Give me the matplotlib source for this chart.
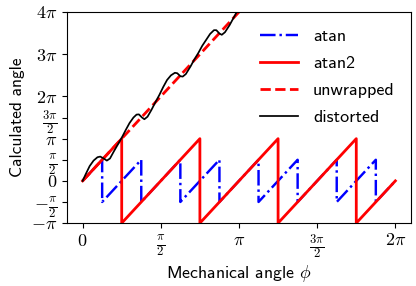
import matplotlib
matplotlib.use("Agg")
import matplotlib.pyplot as plt
import numpy as np

plt.rcParams['mathtext.fontset'] = 'cm'
plt.rcParams['font.family'] = ['cmss10', 'DejaVu Sans']
plt.rcParams['axes.unicode_minus'] = False
plt.rcParams['font.size'] = 13

# all angles below are in units of pi
# atan(tan(4 phi)) -- vertices of the wrapped sawtooth in [-pi/2, pi/2]
atan_phi = [0, 0.125, 0.125, 0.375, 0.375, 0.625, 0.625, 0.875, 0.875,
            1.125, 1.125, 1.375, 1.375, 1.625, 1.625, 1.875, 1.875, 2.0]
atan_val = [0, 0.5, -0.5, 0.5, -0.5, 0.5, -0.5, 0.5, -0.5,
            0.5, -0.5, 0.5, -0.5, 0.5, -0.5, 0.5, -0.5, 0]

# atan2 -- sawtooth in [-pi, pi]
atan2_phi = [0, 0.25, 0.25, 0.75, 0.75, 1.25, 1.25, 1.75, 1.75, 2.0]
atan2_val = [0, 1, -1, 1, -1, 1, -1, 1, -1, 0]

# unwrapped electrical angle
unwrapped_phi = [0, 2.0]
unwrapped_val = [0, 8.0]

# distorted angle (clipped at 4 pi)
distorted_phi = [0, 0.02, 0.045, 0.07, 0.095, 0.113, 0.135, 0.155, 0.175, 0.2, 0.225,
                 0.25, 0.275, 0.3, 0.325, 0.345, 0.36, 0.38, 0.395, 0.415, 0.44, 0.465,
                 0.49, 0.515, 0.54, 0.565, 0.59, 0.605, 0.625, 0.64, 0.66, 0.69, 0.715,
                 0.74, 0.765, 0.79, 0.815, 0.84, 0.855, 0.875, 0.89, 0.91, 0.94, 0.965,
                 0.99, 1.02]
distorted_val = [0, 0.16, 0.35, 0.48, 0.56, 0.575, 0.53, 0.48, 0.53, 0.70, 0.86,
                 1.02, 1.20, 1.37, 1.50, 1.57, 1.575, 1.50, 1.46, 1.52, 1.68, 1.86,
                 2.03, 2.22, 2.39, 2.50, 2.56, 2.55, 2.48, 2.47, 2.53, 2.71, 2.88,
                 3.03, 3.20, 3.34, 3.48, 3.57, 3.57, 3.49, 3.46, 3.52, 3.69, 3.86,
                 4.03, 4.22]

xticks = [0, 0.5, 1, 1.5, 2]
xtick_labels = [r'$0$', r'$\frac{\pi}{2}$', r'$\pi$', r'$\frac{3\pi}{2}$', r'$2\pi$']
yticks = [-1, -0.5, 0, 0.5, 1, 1.5, 2, 3, 4]
ytick_labels = [r'$-\pi$', r'$-\frac{\pi}{2}$', r'$0$', r'$\frac{\pi}{2}$', r'$\pi$',
                r'$\frac{3\pi}{2}$', r'$2\pi$', r'$3\pi$', r'$4\pi$']

pi = np.pi
fig = plt.figure(figsize=(4.16, 2.86), dpi=100)
ax = fig.add_axes([0.161, 0.22, 0.827, 0.738])

ax.plot(np.array(atan_phi) * pi, np.array(atan_val) * pi, 'b-.', lw=1.75, label='atan')
ax.plot(np.array(atan2_phi) * pi, np.array(atan2_val) * pi, 'r-', lw=2, label='atan2')
ax.plot(np.array(unwrapped_phi) * pi, np.array(unwrapped_val) * pi, 'r--', lw=2, label='unwrapped')
ax.plot(np.array(distorted_phi) * pi, np.array(distorted_val) * pi, 'k-', lw=1.25, label='distorted')

ax.set_ylim(-pi, 4 * pi)
ax.set_xticks(np.array(xticks) * pi)
ax.set_xticklabels(xtick_labels)
ax.set_yticks(np.array(yticks) * pi)
ax.set_yticklabels(ytick_labels)
ax.tick_params(labelsize=13)

ax.set_xlabel(r'Mechanical angle $\phi$', fontsize=12.8, labelpad=1.5)
ax.set_ylabel('Calculated angle', fontsize=12.5)
ax.legend(loc='upper right', frameon=False, handlelength=2.1,
          handletextpad=0.83, labelspacing=0.64)

fig.savefig('out.png', dpi=100)
